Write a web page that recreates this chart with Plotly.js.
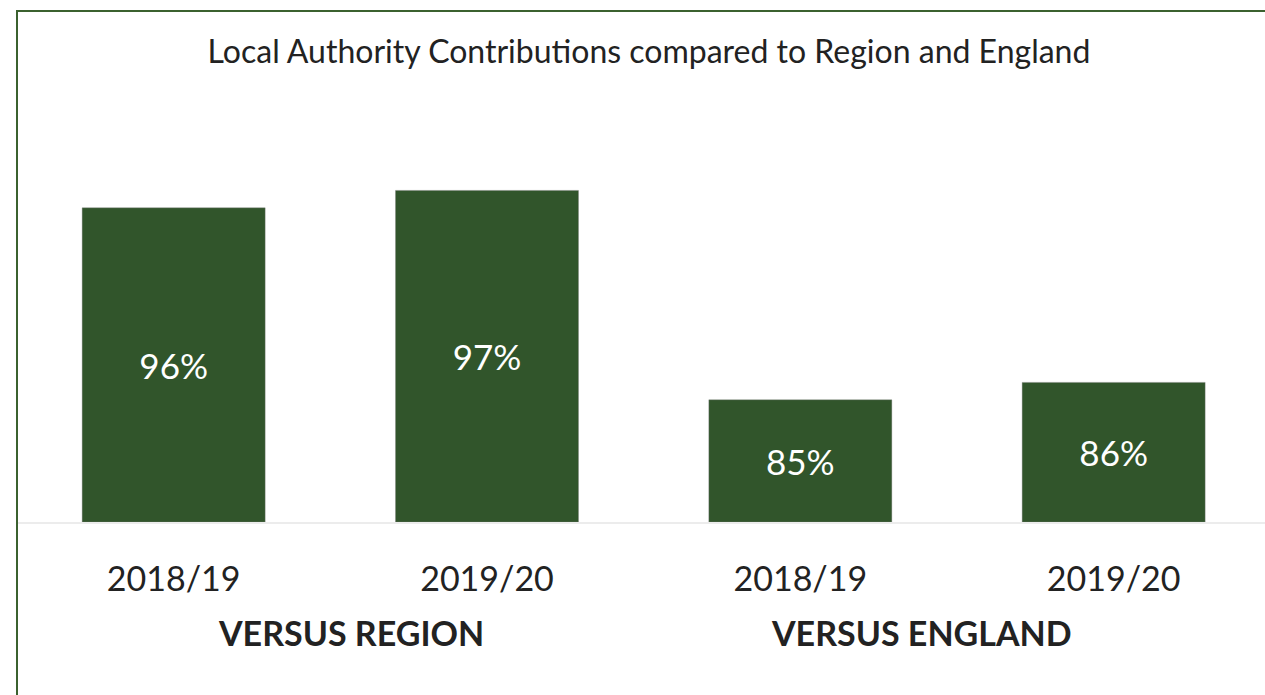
<!DOCTYPE html>
<html>
<head>
<meta charset="utf-8">
<script src="https://cdn.plot.ly/plotly-3.0.1.min.js"></script>
<style>html,body{margin:0;padding:0;background:#fff;}#chart{width:1265px;height:695px;}</style>
</head>
<body>
<div id="chart"></div>
<script>
const categories = ["R-2018/19", "R-2019/20", "E-2018/19", "E-2019/20"];
const tickLabels = ["2018/19", "2019/20", "2018/19", "2019/20"];
const values = [96, 97, 85, 86];
const groups = ["VERSUS REGION", "VERSUS ENGLAND"];
const titleText = "Local Authority Contributions compared to Region and England";
const axisMin = 78;

const FONT = "Lato, 'Open Sans', sans-serif";
const trace = {
  type: "bar",
  x: categories,
  base: axisMin,
  y: values.map(v => v - axisMin),
  customdata: values,
  marker: {color: "#31552b", line: {color: "rgba(120,120,120,0.35)", width: 1}},
  texttemplate: "%{customdata}%",
  textposition: "inside",
  insidetextanchor: "middle",
  textangle: 0,
  constraintext: "none",
  textfont: {color: "#ffffff", size: 35, family: FONT},
  hoverinfo: "skip"
};

const layout = {
  width: 1265, height: 695,
  margin: {l: 17, r: 0, t: 100, b: 173},
  paper_bgcolor: "#ffffff", plot_bgcolor: "#ffffff",
  showlegend: false,
  bargap: 0.416,
  title: {text: titleText, x: 0.5064, xref: "paper", xanchor: "center", y: 0.925, yref: "container", yanchor: "middle",
          font: {family: FONT, size: 32, color: "#222222"}},
  xaxis: {type: "category", range: [-0.5, 3.483], tickmode: "array", tickvals: categories, ticktext: tickLabels,
          showgrid: false, zeroline: false, showline: true, linecolor: "#ececec", linewidth: 1.5,
          ticks: "outside", ticklen: 27, tickcolor: "rgba(0,0,0,0)",
          tickfont: {family: FONT, size: 34, color: "#222222"}, fixedrange: true},
  yaxis: {range: [axisMin, 102.18], showgrid: false, zeroline: false, showticklabels: false, showline: false, fixedrange: true},
  annotations: [
    {text: "<b>" + groups[0] + "</b>", xref: "paper", yref: "paper", x: (350.5 - 17) / 1248, y: (522 - 632) / 422,
     xanchor: "center", yanchor: "middle", showarrow: false, font: {family: FONT, size: 34, color: "#222222"}},
    {text: "<b>" + groups[1] + "</b>", xref: "paper", yref: "paper", x: (921.5 - 17) / 1248, y: (522 - 632) / 422,
     xanchor: "center", yanchor: "middle", showarrow: false, font: {family: FONT, size: 34, color: "#222222"}}
  ],
  shapes: [
    {type: "rect", xref: "paper", yref: "paper", x0: 0, x1: 1.2, y0: -1, y1: (522 - 11) / 422,
     line: {color: "#3b612f", width: 2}, fillcolor: "rgba(0,0,0,0)", layer: "above"}
  ]
};

Plotly.newPlot("chart", [trace], layout, {displayModeBar: false, staticPlot: true});
</script>
</body>
</html>
